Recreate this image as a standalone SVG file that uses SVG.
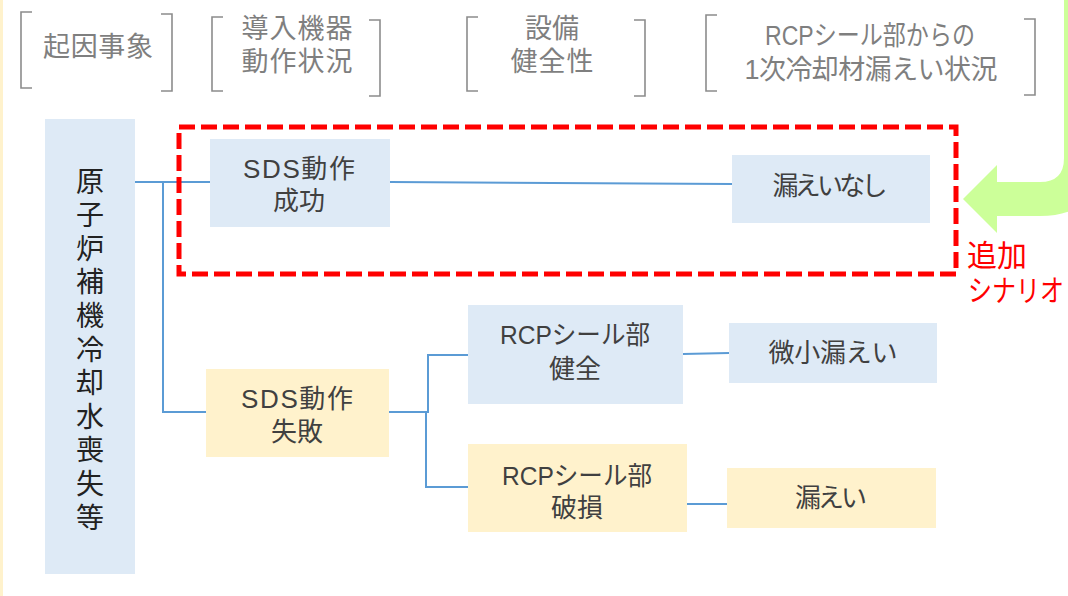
<svg xmlns="http://www.w3.org/2000/svg" width="1068" height="596" viewBox="0 0 1068 596">
<style>
  text { font-family: "Liberation Sans", "Noto Sans CJK JP", sans-serif; }
  .hdr { font-size: 27px; fill: #7f7f7f; text-anchor: middle; }
  .txt { font-size: 26px; fill: #404040; text-anchor: middle; }
  .vt { font-family: "Noto Sans CJK JP", sans-serif; font-size: 28px; fill: #222222; writing-mode: vertical-rl; letter-spacing: 5.6px; }
  .red { font-size: 30px; fill: #ff0000; }
  .br { fill: none; stroke: #8c8c8c; stroke-width: 1.6; }
  .blue { fill: #deeaf6; }
  .yel { fill: #fff2cc; }
  .con { fill: none; stroke: #5b9bd5; stroke-width: 2; }
</style>
<rect x="0" y="0" width="1068" height="596" fill="#ffffff"/>
<rect x="0" y="0" width="3" height="596" fill="#fff2cc"/>

<g id="header-kiin">
  <path class="br" d="M32 12 H21 V88 H32"/>
  <path class="br" d="M161 14 H172 V91 H161"/>
  <text class="hdr" x="98" y="56" textLength="110">起因事象</text>
</g>
<g id="header-douteki">
  <path class="br" d="M223 17 H212 V91 H223"/>
  <path class="br" d="M369 20 H380 V96 H369"/>
  <text class="hdr" x="297" y="38" textLength="111">導入機器</text>
  <text class="hdr" x="297" y="71" textLength="111">動作状況</text>
</g>
<g id="header-setsubi">
  <path class="br" d="M478 17 H467 V91 H478"/>
  <path class="br" d="M634 20 H645 V96 H634"/>
  <text class="hdr" x="552" y="38">設備</text>
  <text class="hdr" x="552" y="71" textLength="83">健全性</text>
</g>
<g id="header-leak">
  <path class="br" d="M717 15 H706 V91 H717"/>
  <path class="br" d="M1024 19 H1035 V95 H1024"/>
  <text class="hdr" x="870" y="45" textLength="210" lengthAdjust="spacingAndGlyphs">RCPシール部からの</text>
  <text class="hdr" x="871" y="79" textLength="253">1次冷却材漏えい状況</text>
</g>

<g id="arrow-added">
  <path d="M1064 0 V158 Q1064 182 1040 182 H997 V165 L963 199 L997 233 V216 H1040 Q1100 216 1100 158 V0 Z" fill="#ccff99"/>
</g>

<g id="connectors">
  <path class="con" d="M135 182 H210"/>
  <path class="con" d="M163 182 V412 H206"/>
  <path class="con" d="M390 182 L732 184"/>
  <path class="con" d="M389 412 H428 V355 H468"/>
  <path class="con" d="M426 412 V487 H468"/>
  <path class="con" d="M683 354 L729 353"/>
  <path class="con" d="M687 504 H727"/>
</g>

<g id="node-initiating">
  <rect class="blue" x="45" y="119" width="90" height="455"/>
  <text class="vt" x="90" y="167">原子炉補機冷却水喪失等</text>
</g>

<g id="node-sds-success">
  <rect class="blue" x="210" y="139" width="180" height="88"/>
  <text class="txt" x="299" y="178" textLength="112">SDS動作</text>
  <text class="txt" x="299" y="210">成功</text>
</g>
<g id="node-no-leak">
  <rect class="blue" x="732" y="155" width="198" height="68"/>
  <text class="txt" x="830" y="195" textLength="115">漏えいなし</text>
</g>
<g id="node-sds-fail">
  <rect class="yel" x="206" y="369" width="183" height="88"/>
  <text class="txt" x="297" y="408" textLength="112">SDS動作</text>
  <text class="txt" x="297" y="441">失敗</text>
</g>
<g id="node-rcp-ok">
  <rect class="blue" x="468" y="305" width="215" height="99"/>
  <text class="txt" x="575" y="344" textLength="150" lengthAdjust="spacingAndGlyphs">RCPシール部</text>
  <text class="txt" x="575" y="378">健全</text>
</g>
<g id="node-small-leak">
  <rect class="blue" x="729" y="323" width="208" height="60"/>
  <text class="txt" x="833" y="362" textLength="129">微小漏えい</text>
</g>
<g id="node-rcp-broken">
  <rect class="yel" x="468" y="444" width="219" height="88"/>
  <text class="txt" x="577" y="485" textLength="150" lengthAdjust="spacingAndGlyphs">RCPシール部</text>
  <text class="txt" x="577" y="517">破損</text>
</g>
<g id="node-leak">
  <rect class="yel" x="727" y="468" width="209" height="60"/>
  <text class="txt" x="831" y="507" textLength="72">漏えい</text>
</g>

<g id="added-scenario">
  <rect x="179" y="127" width="777" height="147" fill="none" stroke="#ff0000" stroke-width="5" stroke-dasharray="16 6"/>
  <text class="red" x="967" y="266">追加</text>
  <text class="red" transform="translate(968 301) scale(0.8 1)">シナリオ</text>
</g>
</svg>
